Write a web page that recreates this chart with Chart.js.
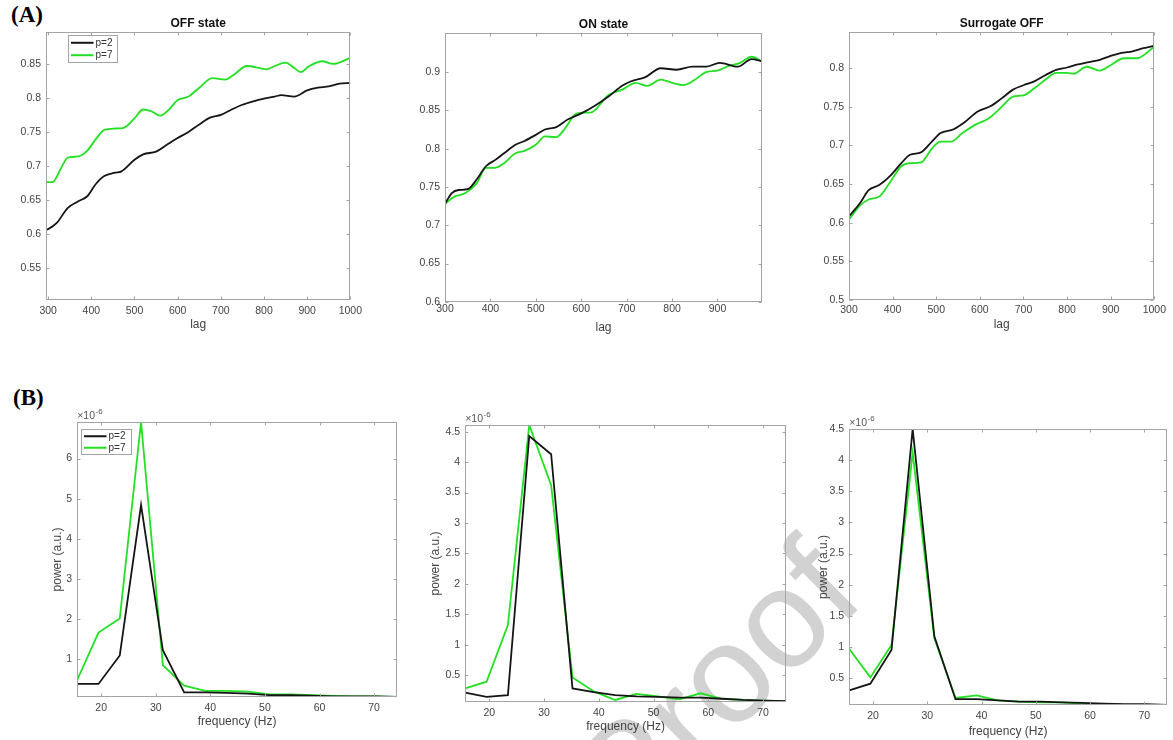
<!DOCTYPE html>
<html>
<head>
<meta charset="utf-8">
<script src="https://cdn.jsdelivr.net/npm/chart.js@4.4.1/dist/chart.umd.min.js"></script>
<style>
  body { margin: 0; width: 1173px; height: 740px; background: #fff; position: relative; overflow: hidden; }
  canvas { position: absolute; }
  .tag { position: absolute; font-family: "Liberation Serif", "Times New Roman", serif; font-weight: bold; font-size: 23px; color: #000; }
  .mark { position: absolute; left: 715px; top: 684px; font-family: "Liberation Sans", Arial, sans-serif; font-size: 140px; line-height: 1.15;
          color: #d2d2d2; white-space: nowrap; transform: translate(-50%, -50%) rotate(-45deg); }
</style>
</head>
<body>
<div class="mark">Proof</div>
<div class="tag" style="left:11px; top:2px">(A)</div>
<div class="tag" style="left:13px; top:385px">(B)</div>

<script>
// ---- data ----
// (A) coherence vs lag
const lagOffP2 = [295, 300, 320, 345, 370, 390, 410, 430, 455, 470, 500, 520, 550, 575, 600, 625, 650, 675, 700, 725, 750, 775, 800, 825, 840, 870, 900, 925, 950, 975, 1000]
const offP2 = [0.606, 0.607, 0.616, 0.638, 0.648, 0.655, 0.673, 0.685, 0.690, 0.692, 0.709, 0.717, 0.721, 0.731, 0.741, 0.750, 0.761, 0.771, 0.775, 0.783, 0.790, 0.795, 0.799, 0.802, 0.804, 0.802, 0.811, 0.815, 0.817, 0.821, 0.822]
const lagOffP7 = [295, 310, 330, 345, 370, 390, 410, 430, 455, 475, 500, 520, 540, 560, 580, 600, 625, 650, 680, 710, 730, 760, 790, 805, 825, 850, 870, 885, 905, 935, 960, 1000]
const offP7 = [0.676, 0.676, 0.697, 0.712, 0.714, 0.722, 0.739, 0.753, 0.755, 0.756, 0.770, 0.783, 0.780, 0.774, 0.783, 0.797, 0.802, 0.815, 0.829, 0.827, 0.834, 0.847, 0.844, 0.842, 0.847, 0.852, 0.844, 0.838, 0.847, 0.854, 0.850, 0.859]

const lagOnP2 = [300, 315, 330, 350, 370, 390, 410, 430, 455, 475, 500, 520, 545, 570, 600, 630, 660, 690, 710, 740, 775, 810, 845, 875, 905, 945, 975, 998]
const onP2 = [0.728, 0.742, 0.746, 0.747, 0.760, 0.777, 0.785, 0.794, 0.805, 0.810, 0.818, 0.825, 0.828, 0.838, 0.846, 0.856, 0.868, 0.882, 0.888, 0.893, 0.905, 0.903, 0.907, 0.907, 0.912, 0.907, 0.917, 0.914]
const lagOnP7 = [300, 320, 345, 370, 390, 410, 430, 455, 475, 500, 520, 545, 565, 585, 600, 620, 660, 690, 720, 745, 775, 800, 825, 850, 875, 900, 925, 950, 975, 998]
const onP7 = [0.728, 0.737, 0.742, 0.755, 0.775, 0.775, 0.781, 0.794, 0.797, 0.805, 0.816, 0.815, 0.827, 0.844, 0.847, 0.847, 0.870, 0.877, 0.886, 0.882, 0.890, 0.886, 0.883, 0.890, 0.900, 0.902, 0.908, 0.912, 0.920, 0.914]

const lagSurP2 = [300, 325, 345, 370, 395, 420, 440, 465, 490, 510, 540, 565, 595, 625, 650, 675, 700, 725, 750, 775, 800, 825, 850, 875, 900, 925, 950, 975, 1000]
const surP2 = [0.608, 0.625, 0.642, 0.649, 0.661, 0.677, 0.688, 0.691, 0.705, 0.716, 0.721, 0.730, 0.744, 0.751, 0.761, 0.772, 0.778, 0.783, 0.791, 0.798, 0.801, 0.805, 0.808, 0.811, 0.816, 0.820, 0.822, 0.826, 0.829]
const lagSurP7 = [300, 325, 345, 370, 395, 420, 440, 465, 490, 510, 535, 560, 590, 620, 650, 675, 700, 725, 750, 775, 800, 815, 845, 875, 900, 930, 960, 1000]
const surP7 = [0.604, 0.622, 0.630, 0.634, 0.653, 0.673, 0.677, 0.678, 0.696, 0.705, 0.705, 0.716, 0.727, 0.735, 0.750, 0.763, 0.765, 0.774, 0.785, 0.794, 0.794, 0.793, 0.802, 0.797, 0.804, 0.813, 0.813, 0.828]

// (B) power spectra, in units of 1e-6
const freqHz = [15.6, 19.5, 23.4, 27.3, 31.3, 35.2, 39.1, 43.0, 46.9, 50.8, 54.7, 58.6, 62.5, 66.4, 70.3, 74.2]
const powOffP2 = [0.38, 0.38, 1.09, 4.84, 1.22, 0.17, 0.17, 0.16, 0.14, 0.10, 0.10, 0.09, 0.07, 0.07, 0.07, 0.06]
const powOffP7 = [0.48, 1.66, 2.01, 6.91, 0.85, 0.34, 0.21, 0.21, 0.19, 0.12, 0.12, 0.10, 0.08, 0.07, 0.07, 0.06]
const powOnP2 = [0.21, 0.14, 0.17, 4.43, 4.13, 0.28, 0.22, 0.17, 0.15, 0.14, 0.13, 0.13, 0.11, 0.09, 0.08, 0.07]
const powOnP7 = [0.28, 0.39, 1.32, 4.61, 3.62, 0.46, 0.23, 0.09, 0.19, 0.15, 0.10, 0.20, 0.11, 0.09, 0.08, 0.07]
const powSurP2 = [0.30, 0.41, 0.95, 4.50, 1.17, 0.16, 0.16, 0.14, 0.12, 0.12, 0.11, 0.10, 0.09, 0.08, 0.08, 0.07]
const powSurP7 = [0.97, 0.51, 1.03, 4.12, 1.14, 0.18, 0.22, 0.14, 0.12, 0.11, 0.11, 0.09, 0.08, 0.07, 0.07, 0.07]

// tick values
const lagTicks = [300, 400, 500, 600, 700, 800, 900, 1000]
const lagTicksOn = [300, 400, 500, 600, 700, 800, 900]
const offTicks = [0.55, 0.6, 0.65, 0.7, 0.75, 0.8, 0.85]
const onTicks = [0.6, 0.65, 0.7, 0.75, 0.8, 0.85, 0.9]
const surTicks = [0.5, 0.55, 0.6, 0.65, 0.7, 0.75, 0.8]
const freqTicks = [20, 30, 40, 50, 60, 70]
const powTicksOff = [1, 2, 3, 4, 5, 6]
const powTicksOn = [0.5, 1, 1.5, 2, 2.5, 3, 3.5, 4, 4.5]

const seriesNames = ['p=2', 'p=7']
const BLACK = '#151515'
const GREEN = '#22e022'
const FONT = '"Liberation Sans", Arial, Helvetica, sans-serif'

function pts (xs, ys) {
  return xs.map((v, i) => ({ x: v, y: ys[i] }))
}

// plot box = [left, top, right, bottom] in page pixels
const panels = [
  { title: 'OFF state', box: [46, 32, 353, 300], x: [295, 1000], y: [0.503, 0.897], xt: lagTicks, yt: offTicks,
    xlabel: 'lag', legend: [22, 3, 49, 27], smooth: true, tickPad: 5, xTitle: 25,
    lines: [pts(lagOffP2, offP2), pts(lagOffP7, offP7)] },
  { title: 'ON state', box: [445, 33, 762, 302], x: [300, 998], y: [0.6, 0.951], xt: lagTicksOn, yt: onTicks,
    xlabel: 'lag', smooth: true, tickPad: 1, xTitle: 26,
    lines: [pts(lagOnP2, onP2), pts(lagOnP7, onP7)] },
  { title: 'Surrogate OFF', box: [849, 32, 1156, 300], x: [300, 1000], y: [0.5, 0.847], xt: lagTicks, yt: surTicks,
    xlabel: 'lag', smooth: true, tickPad: 4, xTitle: 25,
    lines: [pts(lagSurP2, surP2), pts(lagSurP7, surP7)] },
  { box: [77, 422, 397, 697], x: [15.6, 74.2], y: [0.06, 6.91], xt: freqTicks, yt: powTicksOff,
    xlabel: 'frequency (Hz)', ylabel: 'power (a.u.)', ylabelX: 57, legend: [4, 7, 50, 25], exp: true, tickPad: 5, xTitle: 25,
    lines: [pts(freqHz, powOffP2), pts(freqHz, powOffP7)] },
  { box: [465, 425, 786, 702], x: [15.6, 74.2], y: [0.06, 4.61], xt: freqTicks, yt: powTicksOn,
    xlabel: 'frequency (Hz)', ylabel: 'power (a.u.)', ylabelX: 435, exp: true, tickPad: 5, xTitle: 25,
    lines: [pts(freqHz, powOnP2), pts(freqHz, powOnP7)] },
  { box: [849, 429, 1167, 705], x: [15.6, 74.2], y: [0.07, 4.5], xt: freqTicks, yt: powTicksOn,
    xlabel: 'frequency (Hz)', ylabel: 'power (a.u.)', ylabelX: 823, exp: true, tickPad: 5, xTitle: 27, right: 6,
    lines: [pts(freqHz, powSurP2), pts(freqHz, powSurP7)] }
]

// box with inward ticks on all four sides, matlab style
const frame = {
  id: 'frame',
  afterDatasetsDraw (chart) {
    const { ctx, chartArea: a, scales } = chart
    const L = Math.round(a.left) + 0.5, R = Math.round(a.right) - 0.5
    const T = Math.round(a.top) + 0.5, B = Math.round(a.bottom) - 0.5
    ctx.save()
    ctx.strokeStyle = '#a4a4a4'
    ctx.lineWidth = 1
    ctx.strokeRect(L, T, R - L, B - T)
    ctx.beginPath()
    for (const t of scales.x.ticks) {
      const px = Math.round(scales.x.getPixelForValue(t.value)) + 0.5
      ctx.moveTo(px, B); ctx.lineTo(px, B - 3)
      ctx.moveTo(px, T); ctx.lineTo(px, T + 3)
    }
    for (const t of scales.y.ticks) {
      const py = Math.round(scales.y.getPixelForValue(t.value)) + 0.5
      ctx.moveTo(L, py); ctx.lineTo(L + 3, py)
      ctx.moveTo(R, py); ctx.lineTo(R - 3, py)
    }
    ctx.stroke()
    ctx.restore()
  }
}

// title, legend and x10^-6 label
const deco = {
  id: 'deco',
  afterDraw (chart, args, o) {
    const { ctx, chartArea: a } = chart
    ctx.save()
    if (o.title) {
      ctx.font = 'bold 12px ' + FONT
      ctx.fillStyle = '#111'
      ctx.textAlign = 'center'
      ctx.textBaseline = 'middle'
      ctx.fillText(o.title, (a.left + a.right) / 2, a.top - 8)
    }
    if (o.exp) {
      ctx.fillStyle = '#555'
      ctx.textAlign = 'left'
      ctx.textBaseline = 'alphabetic'
      ctx.font = '10.5px ' + FONT
      ctx.fillText('×10', a.left, a.top - 3)
      const w = ctx.measureText('×10').width
      ctx.font = '8px ' + FONT
      ctx.fillText('-6', a.left + w + 0.5, a.top - 8)
    }
    if (o.legend) {
      const [dx, dy, w, h] = o.legend
      const lx = Math.round(a.left + dx) + 0.5, ly = Math.round(a.top + dy) + 0.5
      ctx.fillStyle = '#fff'
      ctx.fillRect(lx, ly, w, h)
      ctx.strokeStyle = '#a4a4a4'
      ctx.lineWidth = 1
      ctx.strokeRect(lx, ly, w, h)
      const colors = [BLACK, GREEN]
      ctx.font = '10px ' + FONT
      ctx.textAlign = 'left'
      ctx.textBaseline = 'middle'
      seriesNames.forEach((name, i) => {
        const yy = ly + h * (0.27 + 0.46 * i)
        ctx.strokeStyle = colors[i]
        ctx.lineWidth = 2
        ctx.beginPath()
        ctx.moveTo(lx + 2.5, yy); ctx.lineTo(lx + 25, yy)
        ctx.stroke()
        ctx.fillStyle = '#333'
        ctx.fillText(name, lx + 27, yy)
      })
    }
    ctx.restore()
  }
}

function fmt (v) {
  return String(Math.round(v * 1000) / 1000)
}

panels.forEach(p => {
  const [l, t, r, b] = p.box
  const TOP = 26
  const RIGHT = p.right || 14
  const XH = p.xTitle + 10.2
  let left, YW
  if (p.ylabel) {
    left = p.ylabelX - 7.2 - 2
    YW = l - left
  } else {
    YW = 44
    left = l - YW
  }
  const cv = document.createElement('canvas')
  const W = YW + (r - l) + RIGHT
  const H = TOP + (b - t) + XH
  cv.width = Math.round(W)
  cv.height = Math.round(H)
  cv.style.left = Math.round(left) + 'px'
  cv.style.top = (t - TOP) + 'px'
  document.body.appendChild(cv)

  const tickFont = { family: FONT, size: 10.5 }
  new Chart(cv, {
    type: 'line',
    data: {
      datasets: p.lines.map((d, i) => ({
        label: seriesNames[i],
        data: d,
        borderColor: i === 0 ? BLACK : GREEN,
        borderWidth: 1.8,
        pointRadius: 0,
        tension: p.smooth ? 0.4 : 0,
        cubicInterpolationMode: p.smooth ? 'monotone' : 'default'
      }))
    },
    options: {
      responsive: false,
      animation: false,
      layout: { padding: { left: 0, top: TOP, right: RIGHT, bottom: 0 } },
      plugins: {
        legend: { display: false },
        tooltip: { enabled: false },
        deco: { title: p.title, legend: p.legend, exp: p.exp }
      },
      scales: {
        x: {
          type: 'linear',
          min: p.x[0],
          max: p.x[1],
          afterBuildTicks: s => { s.ticks = p.xt.map(v => ({ value: v })) },
          afterFit: s => { s.height = XH },
          grid: { display: false, drawTicks: false },
          border: { display: false },
          ticks: { color: '#444', font: tickFont, padding: p.tickPad, maxRotation: 0, autoSkip: false, callback: v => fmt(v) },
          title: { display: true, text: p.xlabel, color: '#444', font: { family: FONT, size: 12 }, padding: { top: 0, bottom: 3 } }
        },
        y: {
          type: 'linear',
          min: p.y[0],
          max: p.y[1],
          afterBuildTicks: s => { s.ticks = p.yt.map(v => ({ value: v })) },
          afterFit: s => { s.width = YW },
          grid: { display: false, drawTicks: false },
          border: { display: false },
          ticks: { color: '#444', font: tickFont, padding: 5, autoSkip: false, callback: v => fmt(v) },
          title: { display: !!p.ylabel, text: p.ylabel || '', color: '#444', font: { family: FONT, size: 12 }, padding: { top: 2, bottom: 0 } }
        }
      }
    },
    plugins: [frame, deco]
  })
})
</script>
</body>
</html>
